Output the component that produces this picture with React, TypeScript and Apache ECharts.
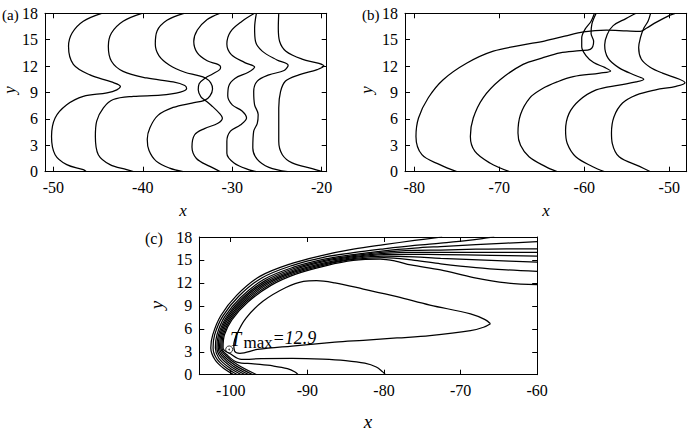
import React, { useEffect, useRef } from "react";
import * as echarts from "echarts";

// ---------- tick values ----------
const A_XTICKS = [-50, -40, -30, -20];
const B_XTICKS = [-80, -70, -60, -50];
const C_XTICKS = [-100, -90, -80, -70, -60];
const Y_TICKS = [0, 3, 6, 9, 12, 15, 18];

// ---------- panel (a) curves ----------
const A1 = [[-46.3,0],[-46.65,0.23],[-48.5,0.8],[-49.8,1.93],[-50.2,4.0],[-49.8,6.1],[-48.5,7.6],[-46.65,8.56],[-44.0,8.95],[-42.9,9.3],[-42.5,9.7],[-43.5,10.2],[-45.9,11.0],[-47.76,12.2],[-48.3,14.25],[-47.9,15.76],[-46.65,17.1],[-44.6,18]];
const A2 = [[-41.05,0],[-41.8,0.23],[-43.66,0.8],[-44.97,1.93],[-45.3,4.0],[-45.15,5.75],[-44.4,7.26],[-43.3,8.2],[-41.05,8.56],[-38.0,8.7],[-35.8,9.05],[-35.1,9.45],[-35.3,9.8],[-36.6,10.2],[-39.56,10.65],[-42.2,11.4],[-43.5,12.55],[-43.85,14.25],[-43.5,15.76],[-42.2,17.1],[-40.1,18]];
const A3 = [[-35.5,0],[-37.0,0.4],[-38.5,1.2],[-39.3,2.4],[-39.5,3.7],[-39.2,5.0],[-38.3,6.4],[-36.6,7.3],[-34.5,7.8],[-33.1,8.1],[-32.5,8.6],[-32.2,9.4],[-32.4,10.1],[-33.0,10.65],[-33.9,10.95],[-35.3,11.3],[-37.0,12.1],[-38.2,13.2],[-38.6,14.5],[-38.4,16.0],[-37.3,17.2],[-35.4,18]];
const A4 = [[-31.3,0],[-32.5,0.6],[-34.0,1.5],[-34.5,2.8],[-34.2,4.2],[-33.1,4.9],[-31.6,5.5],[-31.1,6.1],[-31.4,6.6],[-32.3,7.5],[-33.0,8.1],[-33.5,8.5],[-33.8,9.3],[-33.7,10.0],[-33.0,10.65],[-32.2,11.1],[-31.4,11.6],[-31.3,11.9],[-31.6,12.2],[-32.8,12.6],[-33.9,13.5],[-34.3,14.8],[-33.9,16.1],[-32.8,17.3],[-31.4,18]];
const A5 = [[-27.3,0],[-28.1,0.2],[-29.8,1.0],[-30.6,2.1],[-30.6,3.45],[-30.2,4.6],[-29.1,5.3],[-28.4,6.1],[-28.9,6.9],[-30.0,7.6],[-30.5,8.6],[-30.4,9.7],[-29.7,10.6],[-28.2,11.3],[-27.5,11.9],[-28.6,12.4],[-30.1,13.3],[-30.6,14.5],[-30.2,15.9],[-28.9,17.1],[-27.5,18]];
const A6 = [[-23.8,0],[-25.9,0.5],[-27.2,1.4],[-27.7,2.7],[-27.6,4.6],[-27.2,5.5],[-27.1,6.5],[-27.5,7.6],[-27.6,9.1],[-27.2,10.3],[-25.9,11.0],[-24.2,11.5],[-23.75,12.1],[-25.0,12.7],[-26.65,13.7],[-27.4,14.8],[-27.5,16.3],[-27.3,18]];
const A7 = [[-19.9,0],[-21.06,0.34],[-23.3,1.0],[-24.4,1.93],[-24.8,3.45],[-24.8,7.24],[-24.6,9.1],[-24.04,10.3],[-22.55,11.0],[-20.5,11.6],[-19.75,12.0],[-20.3,12.3],[-22.2,12.8],[-24.0,13.7],[-24.7,14.8],[-24.85,16.3],[-24.8,18]];

// ---------- panel (b) curves ----------
const B1 = [[-75.0,0],[-77.0,0.8],[-79.1,1.93],[-79.8,4.0],[-79.5,6.1],[-78.35,8.4],[-76.6,10.45],[-73.8,12.35],[-70.7,13.7],[-67.2,14.4],[-64.7,14.85],[-62.3,15.4],[-60.1,15.9],[-57.4,16.1],[-55.0,16.0],[-53.4,15.95],[-52.7,16.3],[-51.5,17.0],[-49.9,17.8],[-49.3,18]];
const B2 = [[-68.8,0],[-71.1,0.99],[-72.86,2.3],[-73.4,4.0],[-73.06,6.1],[-71.9,8.4],[-69.9,10.45],[-67.2,12.2],[-65.0,12.9],[-62.85,13.5],[-60.5,13.75],[-59.3,13.9],[-58.9,14.8],[-59.2,15.7],[-59.1,16.8],[-58.6,18]];
const B3 = [[-63.2,0],[-64.6,0.6],[-66.5,1.7],[-67.5,3.0],[-67.8,4.4],[-67.5,6.5],[-66.4,8.4],[-65.0,9.4],[-63.2,10.2],[-61.3,10.8],[-58.15,11.2],[-56.9,11.45],[-57.6,11.85],[-58.9,12.4],[-59.8,13.2],[-60.3,14.2],[-60.3,15.2],[-59.9,16.2],[-59.2,17.1],[-58.8,18]];
const B4 = [[-57.65,0],[-59.0,0.57],[-61.0,1.7],[-62.0,3.2],[-62.2,4.7],[-61.8,6.6],[-60.6,8.1],[-58.6,9.3],[-55.9,9.85],[-53.9,10.2],[-53.0,10.5],[-53.9,10.9],[-55.9,11.8],[-57.2,12.9],[-57.6,14.4],[-57.3,15.6],[-56.6,16.6],[-55.1,17.4],[-53.9,18]];
const B5 = [[-52.2,0],[-53.5,0.6],[-55.9,1.7],[-56.7,3.2],[-56.8,4.4],[-56.5,6.25],[-55.5,7.8],[-53.9,8.7],[-51.6,9.3],[-49.2,9.7],[-48.15,10.1],[-48.8,10.5],[-50.8,11.2],[-52.3,11.9],[-53.3,12.8],[-53.6,14.1],[-53.4,15.2],[-53.0,16.3],[-52.5,17.1],[-52.2,18]];

// ---------- panel (c) contours ----------
const C0 = [[-99.6,0],[-100.9,0.8],[-102.05,1.95],[-102.6,3.5],[-102.35,5.2],[-101.3,7.7],[-99.2,10.4],[-96.2,12.85],[-92.0,14.55],[-88.0,15.6],[-84.0,16.4],[-80.0,17.0],[-76.0,17.55],[-72.4,18]];
const C1 = [[-99.1,0],[-100.6,0.9],[-101.8,2.05],[-102.3,3.5],[-102.1,5.2],[-101.05,7.62],[-98.95,10.25],[-95.95,12.65],[-91.9,14.3],[-87.9,15.35],[-84.0,15.95],[-80.0,16.45],[-76.0,16.9],[-72.6,17.2],[-69.0,17.55],[-66.8,17.85],[-65.6,18]];
const C2 = [[-98.6,0],[-100.3,1.0],[-101.55,2.15],[-102.0,3.5],[-101.8,5.2],[-100.8,7.55],[-98.7,10.1],[-95.7,12.45],[-91.8,14.05],[-87.8,15.1],[-84.0,15.7],[-80.0,16.2],[-76.0,16.55],[-72.6,16.75],[-68.0,17.0],[-64.0,17.2],[-60.0,17.4]];
const C3 = [[-98.1,0],[-100.0,1.08],[-101.3,2.25],[-101.8,3.5],[-101.6,5.2],[-100.6,7.48],[-98.5,10.0],[-95.5,12.3],[-91.75,13.88],[-87.75,14.95],[-84.0,15.55],[-80.0,16.02],[-76.0,16.25],[-72.6,16.3],[-68.0,16.4],[-64.0,16.45],[-60.0,16.45]];
const C4 = [[-97.6,0],[-99.7,1.15],[-101.1,2.35],[-101.62,3.5],[-101.43,5.2],[-100.45,7.42],[-98.35,9.9],[-95.35,12.17],[-91.7,13.72],[-87.7,14.8],[-84.0,15.42],[-80.0,15.85],[-76.0,16.0],[-72.6,16.0],[-66.0,16.0],[-60.0,16.0]];
const C5 = [[-97.1,0],[-99.4,1.22],[-100.9,2.45],[-101.45,3.5],[-101.27,5.2],[-100.3,7.36],[-98.2,9.8],[-95.2,12.04],[-91.65,13.57],[-87.65,14.66],[-84.0,15.3],[-80.0,15.68],[-76.0,15.72],[-72.6,15.7],[-66.0,15.6],[-60.0,15.5]];
const C6 = [[-96.6,0],[-99.1,1.3],[-100.7,2.55],[-101.3,3.5],[-101.12,5.2],[-100.15,7.3],[-98.05,9.7],[-95.05,11.92],[-91.6,13.43],[-87.6,14.53],[-84.0,15.18],[-80.0,15.5],[-76.0,15.4],[-72.6,15.2],[-66.0,14.95],[-60.0,14.7]];
const C7 = [[-91.2,0],[-91.6,0.35],[-92.6,0.8],[-94.5,1.15],[-97.0,1.42],[-99.2,1.65],[-100.5,2.6],[-101.15,3.5],[-100.97,5.2],[-100.0,7.24],[-97.9,9.6],[-94.9,11.8],[-91.55,13.29],[-87.55,14.4],[-84.0,15.06],[-80.0,15.3],[-76.0,14.95],[-72.6,14.5],[-68.0,14.0],[-64.0,13.7],[-60.0,13.5]];
const C8 = [[-79.8,0],[-80.2,0.4],[-81.0,1.0],[-82.5,1.5],[-85.0,1.85],[-88.0,2.05],[-92.0,2.15],[-96.0,2.1],[-98.6,2.0],[-100.0,2.7],[-101.0,3.5],[-100.82,5.2],[-99.85,7.18],[-97.75,9.5],[-94.75,11.68],[-91.5,13.15],[-87.5,14.27],[-84.0,14.94],[-80.5,15.1],[-78.5,14.85],[-76.5,14.35],[-72.6,13.7],[-68.3,12.7],[-64.0,12.0],[-60.0,11.77]];
const C_LOOP = [[-66.1,6.67],[-66.8,7.2],[-68.7,7.95],[-74.0,9.1],[-78.3,10.2],[-82.7,11.2],[-86.4,12.0],[-88.8,12.3],[-90.5,12.2],[-92.8,11.4],[-95.8,9.6],[-98.0,7.4],[-99.2,5.3],[-99.6,3.9],[-99.5,3.1],[-98.8,2.8],[-96.5,3.3],[-92.0,3.75],[-86.4,4.25],[-82.7,4.5],[-78.3,4.8],[-74.0,5.1],[-68.7,5.75],[-67.0,6.2],[-66.1,6.67]];
const T_MAX_POINT = [-100.2, 3.3];
const T_MAX_VALUE = "12.9";

const PANEL_A = [A1, A2, A3, A4, A5, A6, A7];
const PANEL_B = [B1, B2, B3, B4, B5];
const PANEL_C = [C0, C1, C2, C3, C4, C5, C6, C7, C8, C_LOOP];

const FONT = "'Liberation Serif', 'Times New Roman', Times, serif";

function xAxes(grid: number, min: number, max: number, ticks: number[]) {
  const base = {
    type: "value",
    gridIndex: grid,
    min,
    max,
    splitLine: { show: false },
    axisLine: { show: true, onZero: false, lineStyle: { color: "#000", width: 1 } },
    axisTick: { show: true, inside: true, length: 5, customValues: ticks, lineStyle: { color: "#000", width: 1 } },
  };
  return [
    { ...base, position: "bottom", axisLabel: { show: true, customValues: ticks, color: "#000", fontFamily: FONT, fontSize: 16, margin: 8 } },
    { ...base, position: "top", axisLabel: { show: false } },
  ];
}
function yAxes(grid: number) {
  const base = {
    type: "value",
    gridIndex: grid,
    min: 0,
    max: 18,
    splitLine: { show: false },
    axisLine: { show: true, onZero: false, lineStyle: { color: "#000", width: 1 } },
    axisTick: { show: true, inside: true, length: 5, customValues: Y_TICKS, lineStyle: { color: "#000", width: 1 } },
  };
  return [
    { ...base, position: "left", axisLabel: { show: true, customValues: Y_TICKS, color: "#000", fontFamily: FONT, fontSize: 16, margin: 7 } },
    { ...base, position: "right", axisLabel: { show: false } },
  ];
}

export default function App() {
  const ref = useRef<HTMLDivElement>(null);
  useEffect(() => {
    if (!ref.current) return;
    const chart = echarts.init(ref.current, undefined, { renderer: "svg" });
    const series: any[] = [];
    const addCurves = (curves: number[][][], panel: number) => {
      curves.forEach((c, i) => {
        series.push({
          type: "line",
          name: `p${panel}_${i}`,
          xAxisIndex: panel * 2,
          yAxisIndex: panel * 2,
          data: c,
          showSymbol: false,
          symbol: "none",
          smooth: 0.35,
          lineStyle: { color: "#000", width: 1.25 },
          silent: true,
        });
      });
    };
    addCurves(PANEL_A, 0);
    addCurves(PANEL_B, 1);
    addCurves(PANEL_C, 2);
    series.push({
      type: "scatter",
      xAxisIndex: 4,
      yAxisIndex: 4,
      data: [T_MAX_POINT],
      symbol: "circle",
      symbolSize: 7,
      itemStyle: { color: "#fff", borderColor: "#000", borderWidth: 1 },
      silent: true,
    });
    series.push({
      type: "scatter",
      xAxisIndex: 4,
      yAxisIndex: 4,
      data: [T_MAX_POINT],
      symbol: "circle",
      symbolSize: 1.6,
      itemStyle: { color: "#000" },
      silent: true,
    });

    const txt = (text: string, x: number, y: number, font: string, extra: any = {}) => ({
      type: "text",
      x,
      y,
      silent: true,
      ...extra,
      style: { text, font, fill: "#000", align: "left", verticalAlign: "middle", ...(extra.style || {}) },
    });

    chart.setOption({
      animation: false,
      backgroundColor: "#fff",
      grid: [
        { left: 45, top: 13.3, width: 281.7, height: 158.4 },
        { left: 405, top: 13.3, width: 281.7, height: 158.4 },
        { left: 199.3, top: 237, width: 337.9, height: 137.7 },
      ],
      xAxis: [
        ...xAxes(0, -50.93, -19.44, A_XTICKS),
        ...xAxes(1, -81.09, -47.95, B_XTICKS),
        ...xAxes(2, -104.1, -60, C_XTICKS),
      ],
      yAxis: [...yAxes(0), ...yAxes(1), ...yAxes(2)],
      series,
      graphic: [
        txt("(a)", 2, 15, `15px ${FONT}`),
        txt("(b)", 362, 15, `15px ${FONT}`),
        txt("(c)", 145, 238, `16px ${FONT}`),
        txt("x", 183, 210, `italic 17px ${FONT}`, { style: { align: "center" } }),
        txt("x", 546, 210, `italic 17px ${FONT}`, { style: { align: "center" } }),
        txt("x", 368, 421, `italic 19px ${FONT}`, { style: { align: "center" } }),
        txt("y", 9, 90, `italic 17px ${FONT}`, { rotation: Math.PI / 2, style: { align: "center" } }),
        txt("y", 366, 90, `italic 17px ${FONT}`, { rotation: Math.PI / 2, style: { align: "center" } }),
        txt("y", 156, 305, `italic 19px ${FONT}`, { rotation: Math.PI / 2, style: { align: "center" } }),
        txt("T", 230, 339, `italic 20px ${FONT}`),
        txt("max", 243.5, 342, `17px ${FONT}`),
        txt("=" + T_MAX_VALUE, 272.5, 337.5, `italic 18px ${FONT}`),
      ],
    });
    return () => chart.dispose();
  }, []);
  return <div ref={ref} style={{ position: "absolute", left: 0, top: 0, width: 692, height: 436 }} />;
}
